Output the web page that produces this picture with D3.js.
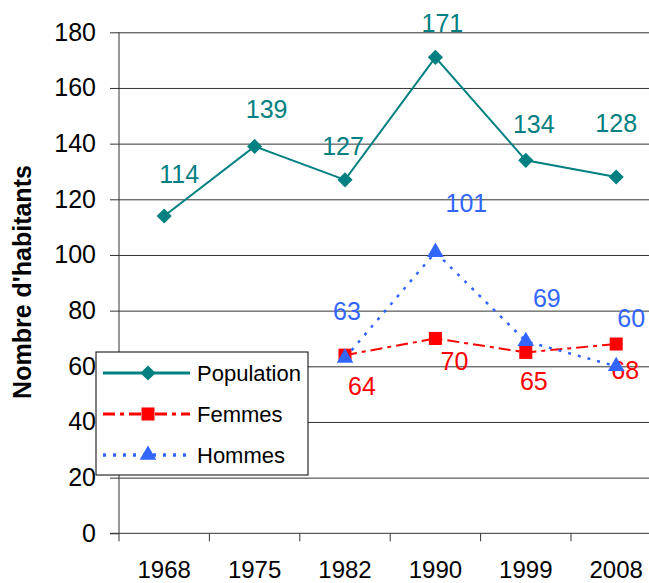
<!DOCTYPE html>
<html>
<head>
<meta charset="utf-8">
<script src="https://cdn.jsdelivr.net/npm/d3@7"></script>
<style>
  body { margin: 0; background: #fff; }
  svg { display: block; font-family: "Liberation Sans", Arial, sans-serif; }
</style>
</head>
<body>
<svg id="chart" width="649" height="583"></svg>
<script>
// data
const years = ["1968", "1975", "1982", "1990", "1999", "2008"];
const population = [114, 139, 127, 171, 134, 128];
const femmes = [null, null, 64, 70, 65, 68];
const hommes = [null, null, 63, 101, 69, 60];
const yTicks = [0, 20, 40, 60, 80, 100, 120, 140, 160, 180];

// label nudges (px) relative to each point, as placed in the original
const popNudge = [[15, -33], [12, -28], [-2, -25], [7, -25], [8, -27], [0, -45]];
const femNudge = [null, null, [17, 40], [19, 32], [8, 38], [9, 35]];
const homNudge = [null, null, [2, -38], [31, -40], [21, -34], [15, -39]];

const W = 649, H = 583;
const plotLeft = 119, plotTop = 32.3, plotBottom = 533.3;
const svg = d3.select("#chart");

const x = d3.scaleBand().domain(years).range([plotLeft, plotLeft + 6 * 90.4]);
const y = d3.scaleLinear().domain([0, 180]).range([plotBottom, plotTop]);
const cx = d => x(d) + x.bandwidth() / 2;

// gridlines
svg.append("g")
  .attr("transform", `translate(${plotLeft},0)`)
  .call(d3.axisRight(y).tickValues(yTicks.slice(1)).tickSize(W - plotLeft).tickFormat(""))
  .call(g => g.select(".domain").remove())
  .call(g => g.selectAll("line").attr("stroke", "#333").attr("stroke-width", 1));

// y axis
svg.append("g")
  .attr("transform", `translate(${plotLeft},0)`)
  .call(d3.axisLeft(y).tickValues(yTicks).tickSize(9).tickSizeOuter(0).tickPadding(14))
  .call(g => g.select(".domain").attr("stroke", "#333").attr("d", `M0,${plotTop}V${plotBottom + 8}`))
  .call(g => g.selectAll("line").attr("stroke", "#333"))
  .call(g => g.selectAll("text").attr("font-size", 25).attr("fill", "#000")
    .attr("font-family", "Liberation Sans, Arial, sans-serif"));

// x axis line
svg.append("line")
  .attr("x1", plotLeft - 9).attr("x2", W).attr("y1", y(0)).attr("y2", y(0))
  .attr("stroke", "#333");

// x ticks at band boundaries
svg.append("g").selectAll("line")
  .data(years.slice(1))
  .join("line")
  .attr("x1", d => x(d)).attr("x2", d => x(d))
  .attr("y1", y(0)).attr("y2", y(0) + 8)
  .attr("stroke", "#333");

svg.append("g")
  .attr("transform", `translate(0,${plotBottom})`)
  .call(d3.axisBottom(x).tickSize(0).tickPadding(28))
  .call(g => g.select(".domain").remove())
  .call(g => g.selectAll("text").attr("font-size", 24).attr("fill", "#000")
    .attr("font-family", "Liberation Sans, Arial, sans-serif"));

// y title
svg.append("text")
  .attr("transform", `translate(31,282) rotate(-90)`)
  .attr("text-anchor", "middle")
  .attr("font-size", 25)
  .attr("font-weight", "bold")
  .text("Nombre d'habitants");

const series = [
  { name: "Population", values: population, color: "#008080", dash: null, width: 2, shape: d3.symbolSquare, size: 115, rot: 45, nudge: popNudge },
  { name: "Femmes", values: femmes, color: "#ff0000", dash: "12,5,4,5", width: 2, shape: d3.symbolSquare, size: 170, rot: 0, nudge: femNudge },
  { name: "Hommes", values: hommes, color: "#3366ff", dash: "3,7", width: 2.5, shape: d3.symbolTriangle, size: 120, rot: 0, nudge: homNudge }
];

const line = d3.line()
  .defined(d => d.v != null)
  .x(d => cx(d.year))
  .y(d => y(d.v));

series.forEach(s => {
  const pts = years.map((yr, i) => ({ year: yr, v: s.values[i], n: s.nudge[i] }));
  const g = svg.append("g");
  g.append("path")
    .datum(pts)
    .attr("d", line)
    .attr("fill", "none")
    .attr("stroke", s.color)
    .attr("stroke-width", s.width)
    .attr("stroke-dasharray", s.dash);
  const ok = pts.filter(p => p.v != null);
  g.selectAll("path.m")
    .data(ok)
    .join("path")
    .attr("class", "m")
    .attr("transform", p => `translate(${cx(p.year)},${y(p.v)}) rotate(${s.rot})`)
    .attr("d", d3.symbol(s.shape, s.size))
    .attr("fill", s.color);
  g.selectAll("text")
    .data(ok)
    .join("text")
    .attr("x", p => cx(p.year) + p.n[0])
    .attr("y", p => y(p.v) + p.n[1])
    .attr("text-anchor", "middle")
    .attr("font-size", 25)
    .attr("fill", s.color)
    .text(p => p.v);
});

// legend
const lg = svg.append("g").attr("transform", "translate(96,352)");
lg.append("rect")
  .attr("width", 212).attr("height", 123)
  .attr("fill", "#fff").attr("stroke", "#000").attr("stroke-width", 1);
series.forEach((s, i) => {
  const ly = 21 + i * 41;
  lg.append("line")
    .attr("x1", 7).attr("x2", 94).attr("y1", ly).attr("y2", ly)
    .attr("stroke", s.color).attr("stroke-width", s.width + 1)
    .attr("stroke-dasharray", s.dash);
  lg.append("path")
    .attr("transform", `translate(52,${ly}) rotate(${s.rot})`)
    .attr("d", d3.symbol(s.shape, s.size))
    .attr("fill", s.color);
  lg.append("text")
    .attr("x", 101).attr("y", ly + 8)
    .attr("font-size", 22)
    .text(s.name);
});
</script>
</body>
</html>
